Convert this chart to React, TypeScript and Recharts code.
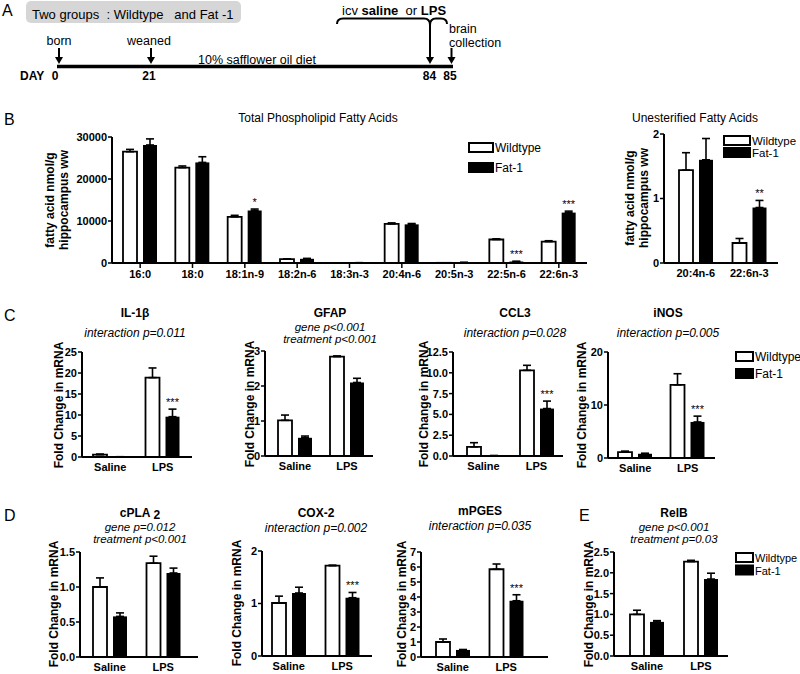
import { BarChart, Bar, XAxis, YAxis, ErrorBar } from 'recharts'

const FONT = '"Liberation Sans", Arial, Helvetica, sans-serif'

// ---- panel B: total phospholipid fatty acids (nmol/g hippocampus ww)
const tpCats = ['16:0', '18:0', '18:1n-9', '18:2n-6', '18:3n-3', '20:4n-6', '20:5n-3', '22:5n-6', '22:6n-3']
const tpWt = [26500, 22700, 11000, 900, 30, 9300, 40, 5600, 5100]
const tpWtErr = [550, 400, 350, 100, 10, 250, 10, 150, 200]
const tpFat = [28100, 23950, 12500, 1000, 60, 9200, 120, 350, 12000]
const tpFatErr = [1450, 1350, 350, 100, 10, 200, 20, 50, 350]
const tpSig = ['', '', '*', '', '', '', '', '***', '***']
const tpTicks = [0, 10000, 20000, 30000]

// ---- panel B: unesterified fatty acids
const ueCats = ['20:4n-6', '22:6n-3']
const ueWt = [1.44, 0.31]
const ueWtErr = [0.27, 0.07]
const ueFat = [1.6, 0.86]
const ueFatErr = [0.33, 0.11]
const ueSig = ['', '**']
const ueTicks = [0, 1, 2]

// ---- panels C-E: fold change in mRNA, saline vs LPS
const groups = ['Saline', 'LPS']

const il1bWt = [0.55, 18.9]
const il1bWtErr = [0.15, 2.3]
const il1bFat = [0.05, 9.6]
const il1bFatErr = [0.02, 1.8]
const il1bSig = ['', '***']
const il1bTicks = [0, 5, 10, 15, 20, 25]

const gfapWt = [1.02, 2.84]
const gfapWtErr = [0.15, 0.02]
const gfapFat = [0.52, 2.1]
const gfapFatErr = [0.05, 0.12]
const gfapSig = ['', '']
const gfapTicks = [0, 1, 2, 3]

const ccl3Wt = [1.1, 10.3]
const ccl3WtErr = [0.5, 0.6]
const ccl3Fat = [0.04, 5.7]
const ccl3FatErr = [0.01, 0.9]
const ccl3Sig = ['', '***']
const ccl3Ticks = [0, 2.5, 5, 7.5, 10, 12.5]

const inosWt = [1.1, 13.8]
const inosWtErr = [0.2, 2.1]
const inosFat = [0.8, 6.8]
const inosFatErr = [0.1, 1.1]
const inosSig = ['', '***']
const inosTicks = [0, 10, 20]

const cplaWt = [1.0, 1.34]
const cplaWtErr = [0.13, 0.1]
const cplaFat = [0.58, 1.2]
const cplaFatErr = [0.05, 0.07]
const cplaSig = ['', '']
const cplaTicks = [0, 0.5, 1, 1.5]

const coxWt = [1.01, 1.72]
const coxWtErr = [0.13, 0.01]
const coxFat = [1.2, 1.11]
const coxFatErr = [0.11, 0.1]
const coxSig = ['', '***']
const coxTicks = [0, 1, 2]

const mpgesWt = [1.0, 5.85]
const mpgesWtErr = [0.2, 0.35]
const mpgesFat = [0.47, 3.75]
const mpgesFatErr = [0.03, 0.4]
const mpgesSig = ['', '***']
const mpgesTicks = [0, 1, 2, 3, 4, 5, 6, 7]

const relbWt = [1.0, 2.27]
const relbWtErr = [0.1, 0.03]
const relbFat = [0.82, 1.85]
const relbFatErr = [0.03, 0.14]
const relbSig = ['', '']
const relbTicks = [0, 0.5, 1, 1.5, 2, 2.5]

interface Row {
  cat: string
  wt: number
  wtErr: [number, number]
  fat: number
  fatErr: [number, number]
  sig: string
}

function rows(cats: string[], wt: number[], wtErr: number[], fat: number[], fatErr: number[], sig: string[]): Row[] {
  return cats.map((cat, i) => ({
    cat,
    wt: wt[i],
    wtErr: [0, wtErr[i]],
    fat: fat[i],
    fatErr: [0, fatErr[i]],
    sig: sig[i],
  }))
}

// black bar + significance stars sitting above its error bar
function FatBar(props: any) {
  const { x, y, width, height, payload } = props
  const h = Math.max(height || 0, 0)
  const perUnit = payload.fat > 0 ? h / payload.fat : 0
  const errTop = y - payload.fatErr[1] * perUnit
  return (
    <g>
      <rect x={x} y={y} width={width} height={h} fill="#000" />
      {payload.sig ? (
        <text x={x + width / 2} y={errTop - 3} textAnchor="middle" fontSize={11} fontFamily={FONT} fill="#000">
          {payload.sig}
        </text>
      ) : null}
    </g>
  )
}

interface ChartProps {
  data: Row[]
  axisX: number
  plotTop: number
  plotBottom: number
  axisEnd: number
  padL?: number
  padR?: number
  max: number
  ticks: number[]
  digits?: number
  catTicks?: boolean
}

function GroupChart({ data, axisX, plotTop, plotBottom, axisEnd, padL = 0, padR = 0, max, ticks, digits = 0, catTicks = false }: ChartProps) {
  const yW = 46
  const mt = 12
  const mr = 12
  const xH = 26
  const left = axisX - yW
  const top = plotTop - mt
  const width = axisEnd - left + mr
  const height = plotBottom - top + xH
  const tickStyle = { fontSize: 11, fontWeight: 700, fill: '#000', fontFamily: FONT }
  return (
    <div style={{ position: 'absolute', left, top }}>
      <BarChart width={width} height={height} data={data} margin={{ top: mt, right: mr, bottom: 0, left: 0 }} barSize={14} barGap={6}>
        <XAxis
          dataKey="cat"
          interval={0}
          height={xH}
          padding={{ left: padL, right: padR }}
          axisLine={{ stroke: '#000', strokeWidth: 2 }}
          tickLine={catTicks ? { stroke: '#000', strokeWidth: 1.5 } : false}
          tickSize={catTicks ? 5 : 0}
          tickMargin={catTicks ? 2 : 6}
          tick={tickStyle}
        />
        <YAxis
          type="number"
          domain={[0, max]}
          ticks={ticks}
          interval={0}
          width={yW}
          allowDataOverflow
          axisLine={{ stroke: '#000', strokeWidth: 2 }}
          tickLine={{ stroke: '#000', strokeWidth: 1.5 }}
          tickSize={4}
          tickMargin={1}
          tick={tickStyle}
          tickFormatter={(v: number) => v.toFixed(digits)}
        />
        <Bar dataKey="wt" fill="#fff" stroke="#000" strokeWidth={1.8} isAnimationActive={false}>
          <ErrorBar dataKey="wtErr" width={4} stroke="#000" strokeWidth={1.6} />
        </Bar>
        <Bar dataKey="fat" fill="#000" shape={FatBar} isAnimationActive={false}>
          <ErrorBar dataKey="fatErr" width={4} stroke="#000" strokeWidth={1.6} />
        </Bar>
      </BarChart>
    </div>
  )
}

function Legend({ x, y, w, gap, size = 12 }: { x: number; y: number; w: number; gap: number; size?: number }) {
  return (
    <g fontFamily={FONT} fontSize={size}>
      <rect x={x} y={y} width={w} height={9} fill="#fff" stroke="#000" strokeWidth={2} />
      <text x={x + w + 2} y={y + 9}>Wildtype</text>
      <rect x={x - 1} y={y + gap - 1} width={w + 2} height={11} fill="#000" />
      <text x={x + w + 2} y={y + gap + 9}>Fat-1</text>
    </g>
  )
}

function YLabel({ x, y, lines }: { x: number; y: number; lines: string[] }) {
  return (
    <>
      {lines.map((t, i) => {
        const cx = x + i * 14
        return (
          <text key={t} x={cx} y={y} dy="0.35em" textAnchor="middle" transform={`rotate(-90 ${cx} ${y})`} fontFamily={FONT} fontSize={12} fontWeight={700}>
            {t}
          </text>
        )
      })}
    </>
  )
}

function Title({ x, y, title, notes, noteY }: { x: number; y: number; title: React.ReactNode; notes: string[]; noteY: number[] }) {
  return (
    <g fontFamily={FONT} textAnchor="middle">
      <text x={x} y={y} fontSize={12} fontWeight={700}>{title}</text>
      {notes.map((n, i) => (
        <text key={n} x={x} y={noteY[i]} fontSize={notes.length > 1 ? 11.5 : 12} fontStyle="italic">{n}</text>
      ))}
    </g>
  )
}

function DownArrow({ x, y1, y2 }: { x: number; y1: number; y2: number }) {
  return (
    <g>
      <line x1={x} y1={y1} x2={x} y2={y2 - 5} stroke="#000" strokeWidth={2} />
      <polygon points={`${x - 4},${y2 - 7} ${x + 4},${y2 - 7} ${x},${y2}`} fill="#000" />
    </g>
  )
}

export default function App() {
  return (
    <div style={{ position: 'absolute', left: 0, top: 0, width: 800, height: 674, background: '#fff', fontFamily: FONT, overflow: 'hidden' }}>
      <GroupChart data={rows(tpCats, tpWt, tpWtErr, tpFat, tpFatErr, tpSig)} axisX={112} plotTop={137} plotBottom={263} axisEnd={587} padL={2} padR={2} max={30000} ticks={tpTicks} catTicks />
      <GroupChart data={rows(ueCats, ueWt, ueWtErr, ueFat, ueFatErr, ueSig)} axisX={664} plotTop={134} plotBottom={263} axisEnd={778} padL={5} padR={2} max={2} ticks={ueTicks} />

      <GroupChart data={rows(groups, il1bWt, il1bWtErr, il1bFat, il1bFatErr, il1bSig)} axisX={82} plotTop={352} plotBottom={457} axisEnd={192} padL={2} padR={3} max={25} ticks={il1bTicks} />
      <GroupChart data={rows(groups, gfapWt, gfapWtErr, gfapFat, gfapFatErr, gfapSig)} axisX={265} plotTop={351} plotBottom={456} axisEnd={373} padL={4} padR={0} max={3} ticks={gfapTicks} />
      <GroupChart data={rows(groups, ccl3Wt, ccl3WtErr, ccl3Fat, ccl3FatErr, ccl3Sig)} axisX={453} plotTop={352} plotBottom={456} axisEnd={563} padL={4} padR={0} max={12.5} ticks={ccl3Ticks} digits={1} />
      <GroupChart data={rows(groups, inosWt, inosWtErr, inosFat, inosFatErr, inosSig)} axisX={608} plotTop={352} plotBottom={458} axisEnd={715} padL={1} padR={1} max={20} ticks={inosTicks} />

      <GroupChart data={rows(groups, cplaWt, cplaWtErr, cplaFat, cplaFatErr, cplaSig)} axisX={80} plotTop={552} plotBottom={657} axisEnd={198} padL={3} padR={8} max={1.5} ticks={cplaTicks} digits={1} />
      <GroupChart data={rows(groups, coxWt, coxWtErr, coxFat, coxFatErr, coxSig)} axisX={262} plotTop={551} plotBottom={656} axisEnd={372} padL={0} padR={3} max={2} ticks={coxTicks} />
      <GroupChart data={rows(groups, mpgesWt, mpgesWtErr, mpgesFat, mpgesFatErr, mpgesSig)} axisX={421} plotTop={552} plotBottom={657} axisEnd={548} padL={5} padR={15} max={7} ticks={mpgesTicks} />
      <GroupChart data={rows(groups, relbWt, relbWtErr, relbFat, relbFatErr, relbSig)} axisX={614} plotTop={552} plotBottom={656} axisEnd={728} padL={6} padR={0} max={2.5} ticks={relbTicks} digits={1} />

      <svg width={800} height={674} style={{ position: 'absolute', left: 0, top: 0, pointerEvents: 'none' }}>
        {/* panel A: timeline */}
        <g fontFamily={FONT} fill="#000">
          <text x={2} y={16} fontSize={16}>A</text>
          <rect x={26} y={1} width={215} height={22} rx={5} fill="#d6d6d6" />
          <text x={32} y={19} fontSize={13} style={{ whiteSpace: 'pre' }}>{'Two groups  : Wildtype   and Fat -1'}</text>
          <text x={59} y={45} fontSize={12.5} textAnchor="middle">born</text>
          <text x={149} y={45} fontSize={12.5} textAnchor="middle">weaned</text>
          <text x={257} y={64} fontSize={12.5} textAnchor="middle">10% safflower oil diet</text>
          <line x1={57} y1={66.5} x2={453} y2={66.5} stroke="#000" strokeWidth={3.5} />
          <DownArrow x={59} y1={48} y2={64} />
          <DownArrow x={151} y1={48} y2={64} />
          <DownArrow x={430} y1={25} y2={64} />
          <DownArrow x={451.5} y1={48} y2={64} />
          <path d="M337,24 Q337,18.5 343,18.5 L424,18.5 Q430,18.5 430,25 Q430,18.5 436,18.5 L441,18.5 Q447,18.5 447,24" fill="none" stroke="#000" strokeWidth={2} />
          <text x={342} y={15} fontSize={13} style={{ whiteSpace: 'pre' }}>
            icv <tspan fontWeight={700}>saline</tspan>  or <tspan fontWeight={700}>LPS</tspan>
          </text>
          <text x={449} y={33} fontSize={12.5}>brain</text>
          <text x={449} y={47} fontSize={12.5}>collection</text>
          <g fontSize={12} fontWeight={700}>
            <text x={20} y={80}>DAY</text>
            <text x={55} y={80} textAnchor="middle">0</text>
            <text x={149} y={80} textAnchor="middle">21</text>
            <text x={429.5} y={80} textAnchor="middle">84</text>
            <text x={450} y={80} textAnchor="middle">85</text>
          </g>
        </g>

        {/* panel letters */}
        <g fontFamily={FONT} fontSize={16}>
          <text x={4} y={125}>B</text>
          <text x={4} y={321}>C</text>
          <text x={4} y={521}>D</text>
          <text x={579} y={521}>E</text>
        </g>

        {/* panel B titles, axis labels, legends */}
        <text x={318} y={122} fontFamily={FONT} fontSize={12} textAnchor="middle">Total Phospholipid Fatty Acids</text>
        <text x={695} y={122} fontFamily={FONT} fontSize={12} textAnchor="middle">Unesterified Fatty Acids</text>
        <YLabel x={50} y={200} lines={['fatty acid nmol/g', 'hippocampus ww']} />
        <YLabel x={630} y={198} lines={['fatty acid nmol/g', 'hippocampus ww']} />
        <Legend x={469} y={143} w={24} gap={20} />
        <Legend x={724} y={136} w={26} gap={12} size={11.5} />

        {/* panel C */}
        <Title x={135} y={317} title="IL-1β" notes={['interaction p=0.011']} noteY={[337]} />
        <Title x={330} y={317} title="GFAP" notes={['gene p<0.001', 'treatment p<0.001']} noteY={[331, 343]} />
        <Title x={515} y={317} title="CCL3" notes={['interaction p=0.028']} noteY={[337]} />
        <Title x={668} y={317} title="iNOS" notes={['interaction p=0.005']} noteY={[337]} />
        <YLabel x={59} y={405} lines={['Fold Change in mRNA']} />
        <YLabel x={250} y={404} lines={['Fold Change in mRNA']} />
        <YLabel x={424} y={404} lines={['Fold Change in mRNA']} />
        <YLabel x={582} y={405} lines={['Fold Change in mRNA']} />
        <Legend x={736} y={352} w={17} gap={17} />

        {/* panels D and E */}
        <Title
          x={140}
          y={517}
          title={
            <>
              cPLA<tspan dx={3} dy={2}>2</tspan>
            </>
          }
          notes={['gene p=0.012', 'treatment p<0.001']}
          noteY={[531, 543]}
        />
        <Title x={316} y={517} title="COX-2" notes={['interaction p=0.002']} noteY={[532]} />
        <Title x={480} y={515} title="mPGES" notes={['interaction p=0.035']} noteY={[530]} />
        <Title x={674} y={517} title="RelB" notes={['gene p<0.001', 'treatment p=0.03']} noteY={[531, 543]} />
        <YLabel x={54} y={604} lines={['Fold Change in mRNA']} />
        <YLabel x={237} y={603} lines={['Fold Change in mRNA']} />
        <YLabel x={402} y={604} lines={['Fold Change in mRNA']} />
        <YLabel x={589} y={604} lines={['Fold Change in mRNA']} />
        <Legend x={736} y={553} w={17} gap={12.5} size={11} />
      </svg>
    </div>
  )
}
